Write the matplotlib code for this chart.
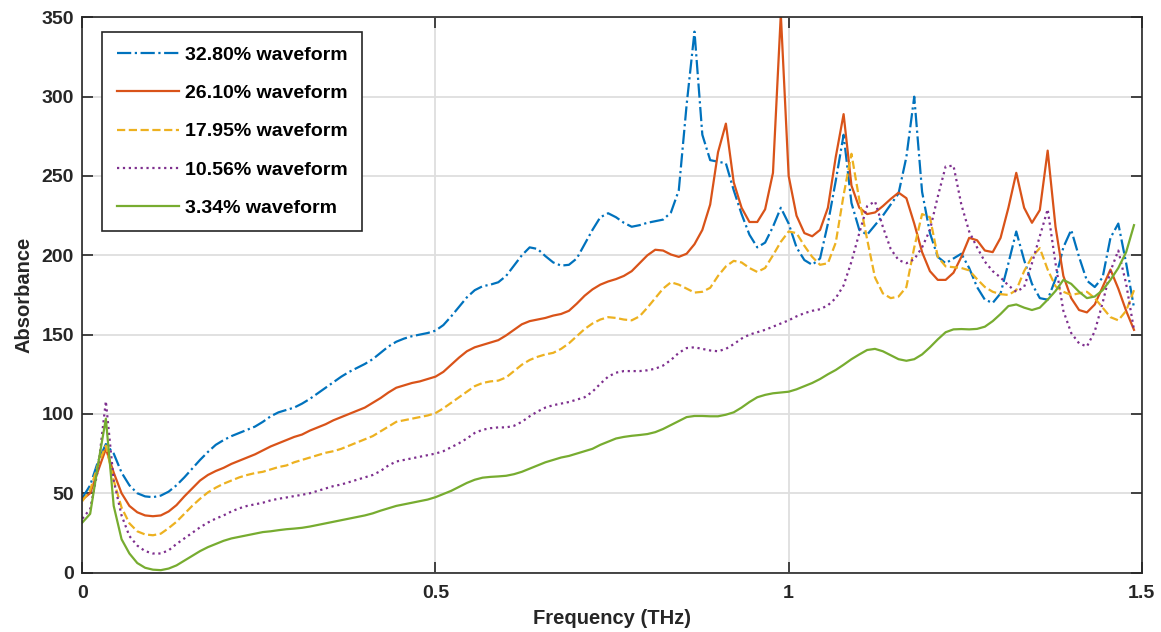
import numpy as np
import matplotlib
matplotlib.use("Agg")
import matplotlib.pyplot as plt

# frequency axis (THz), sample spacing 1/90 THz
freq = np.arange(135) / 90

a_3280 = [47, 55, 70, 81, 75, 63, 55, 50, 48, 47.5,
          48.5, 51, 55, 60, 65.5, 71, 76, 80.5, 83.5, 86,
          88, 90, 92, 95, 98.5, 101, 102.5, 104, 106.5, 109.5,
          113, 116.5, 120, 123.5, 126.5, 129, 131.5, 134.5, 138.5, 142.5,
          145.5, 147.5, 149, 150, 151, 152.5, 156, 161.5, 167.5, 173.5,
          178, 180.5, 181.5, 183, 187, 193.5, 200, 205, 204, 199.5,
          195.5, 193.5, 194, 198, 207, 216, 224, 226.5, 224, 220.5,
          218, 219, 220.5, 221.5, 222.5, 227, 241, 295, 341, 276,
          260, 259, 258, 241, 226, 213, 205, 208, 218, 230,
          220, 205, 197, 194, 198, 220, 247, 276, 233, 216,
          213, 219, 225, 232, 239, 262, 300, 240, 214, 199,
          195, 198, 201, 192, 180, 172, 170, 176, 195, 215,
          197, 182, 173, 172, 185, 205, 216, 199, 184, 180,
          186, 211, 220, 195, 167]

a_2610 = [46, 50, 64, 78, 63, 50, 42, 38, 36, 35.5,
          36, 38.5, 42.5, 48, 53, 58, 61.5, 64, 66, 68.5,
          70.5, 72.5, 74.5, 77, 79.5, 81.5, 83.5, 85.5, 87, 89.5,
          91.5, 93.5, 96, 98, 100, 102, 104, 107, 110, 113.5,
          116.5, 118, 119.5, 120.5, 122, 123.5, 126.5, 131, 135.5, 139.5,
          142, 143.5, 145, 146.5, 149.5, 153, 156.5, 158.5, 159.5, 160.5,
          162, 163, 165, 169.5, 174.5, 178.5, 181.5, 183.5, 185, 187,
          190, 195, 200, 203.5, 203, 200.5, 199, 201, 207, 216,
          232, 265, 283, 246, 230, 221, 221, 229, 252, 352,
          250, 225, 214, 212, 216, 230, 262, 289, 244, 230,
          226, 227, 231, 235.5, 239.5, 236, 220, 202, 190, 184.5,
          184.5, 189, 199, 211, 209.5, 203, 202, 211, 230, 252,
          230, 220.5, 228.5, 266, 218, 187, 173, 165.5, 164, 169,
          180, 191, 179, 165, 153]

a_1795 = [45, 52, 68, 80, 58, 41, 31, 26, 24, 23.5,
          24.5, 28, 32, 37, 42, 46.5, 50.5, 53.5, 56, 58,
          60, 61.5, 62.7, 63.5, 65, 66.5, 67.5, 69.5, 71, 72.5,
          74, 75.5, 76.5, 78, 80, 82, 84, 86, 89, 92,
          95, 96, 97, 98, 99, 100.5, 103.5, 107, 110.5, 114,
          117.5, 119.5, 120.5, 121, 123, 127, 131, 134, 136, 137.5,
          138.5, 141, 144.5, 149, 153.5, 157, 159.5, 161, 160.5, 159.5,
          159, 161.5, 167, 173, 179, 183, 181.5, 179, 176.5, 177,
          179.5, 187, 193, 196.5, 195.5, 192, 189.5, 192, 200, 208.5,
          215, 214, 206, 199, 194, 195, 208, 238, 264, 235,
          210, 186, 176, 173, 174, 180, 205, 226, 224, 199,
          193, 192.5, 192, 190.5, 185, 180, 177, 175.5, 175, 178,
          190, 199, 204.5, 191, 180.5, 177, 175, 176, 177, 173,
          167, 161, 159, 165, 178]

a_1056 = [34, 40, 65, 108, 58, 36, 23, 17, 13.5, 12,
          12, 14, 18, 21.5, 25, 28.5, 31.5, 34, 36, 38.5,
          40.5, 42, 43, 44, 45.5, 46.5, 47.3, 48.2, 49, 50,
          51.5, 53, 54.5, 55.5, 57, 58.5, 60, 61.5, 64, 67.5,
          70, 71, 72, 73, 74, 75, 76.5, 79, 81.5, 84.5,
          88, 90, 91, 91.5, 91.5, 92.5, 95, 98.5, 101.5, 104,
          105.5, 106.5, 107.5, 109, 110.5, 114, 119, 123.5, 126, 127,
          127, 127, 127.5, 128.5, 130.5, 134, 138.5, 141.5, 142, 141,
          140, 139.5, 141, 144, 147.5, 150, 151.5, 153, 155, 157,
          159, 161.5, 163.5, 165, 166, 168.5, 173, 181, 196, 214,
          231, 234, 218, 204, 197, 195, 197.5, 205, 216, 237,
          256, 256.5, 232, 215, 205, 196, 190, 186, 181, 177,
          180, 195, 212, 229, 195, 165, 151, 144.5, 142.5, 152,
          170, 190, 203, 182, 153]

a_334 = [31.5, 37, 68, 97, 42, 21, 12, 6, 3, 1.8,
         1.5, 2.5, 4.5, 7.5, 10.5, 13.5, 16, 18, 20, 21.5,
         22.5, 23.5, 24.5, 25.5, 26, 26.7, 27.3, 27.7, 28.2, 29,
         30, 31, 32, 33, 34, 35, 36, 37.3, 39, 40.5,
         42, 43, 44, 45, 46, 47.5, 49.5, 51.5, 54, 56.5,
         58.5, 59.8, 60.3, 60.6, 61, 62, 63.5, 65.5, 67.5, 69.5,
         71, 72.5, 73.5, 75, 76.5, 78, 80.5, 82.5, 84.5, 85.5,
         86.2, 86.7, 87.3, 88.5, 90.5, 93, 95.5, 98, 98.7, 98.7,
         98.5, 98.5, 99.5, 101, 104, 107.5, 110.5, 112, 113, 113.5,
         114, 115.5, 117.5, 119.5, 122, 125, 127.7, 131, 134.5, 137.5,
         140.3, 141, 139.5, 137, 134.5, 133.5, 134.5, 137.5, 142, 147,
         151.5, 153.3, 153.5, 153.3, 153.6, 155, 158.5, 163, 168, 169,
         167, 165.5, 167, 172, 177.5, 184.5, 182, 177, 173, 174,
         178, 184.5, 192, 202, 219]

labels = ['32.80% waveform', '26.10% waveform', '17.95% waveform',
          '10.56% waveform', '3.34% waveform']
colors = ['#0072BD', '#D95319', '#EDB120', '#7E2F8E', '#77AC30']
styles = ['-.', '-', '--', ':', '-']

plt.rcParams['font.family'] = ['Liberation Sans', 'DejaVu Sans']
plt.rcParams['font.weight'] = 'bold'

fig = plt.figure(figsize=(11.61, 6.32), dpi=100)
ax = fig.add_axes([0.0709, 0.0941, 0.9126, 0.8784])

for y, lab, c, ls in zip([a_3280, a_2610, a_1795, a_1056, a_334],
                         labels, colors, styles):
    ax.plot(freq, y, ls, color=c, linewidth=1.6, label=lab)

ax.set_xlim(0, 1.5)
ax.set_ylim(0, 350)
ax.set_xticks([0, 0.5, 1, 1.5])
ax.set_xticklabels(['0', '0.5', '1', '1.5'])
ax.set_yticks(np.arange(0, 351, 50))

ax.grid(True, color='#dedede', linewidth=1.3)
ax.set_axisbelow(True)
ax.tick_params(direction='in', length=8, width=1.2, colors='#262626',
               labelsize=14, top=True, right=True, pad=6)
ax.tick_params(axis='x', pad=9)
for lbl in ax.get_xticklabels() + ax.get_yticklabels():
    lbl.set_fontweight('bold')
for s in ax.spines.values():
    s.set_color('#262626')
    s.set_linewidth(1.2)

ax.set_xlabel('Frequency (THz)', fontsize=14.5, fontweight='bold', color='#262626', labelpad=5)
ax.set_ylabel('Absorbance', fontsize=14.5, fontweight='bold', color='#262626', labelpad=6)

leg = ax.legend(loc='upper left', bbox_to_anchor=(0.0186, 0.974), borderaxespad=0,
                fancybox=False, framealpha=1, edgecolor='#262626',
                prop={'size': 14, 'weight': 'bold'},
                handlelength=3.2, handletextpad=0.3, labelspacing=1.06, borderpad=0.75)
leg.get_frame().set_linewidth(1.2)

fig.savefig('out.png', dpi=100)
